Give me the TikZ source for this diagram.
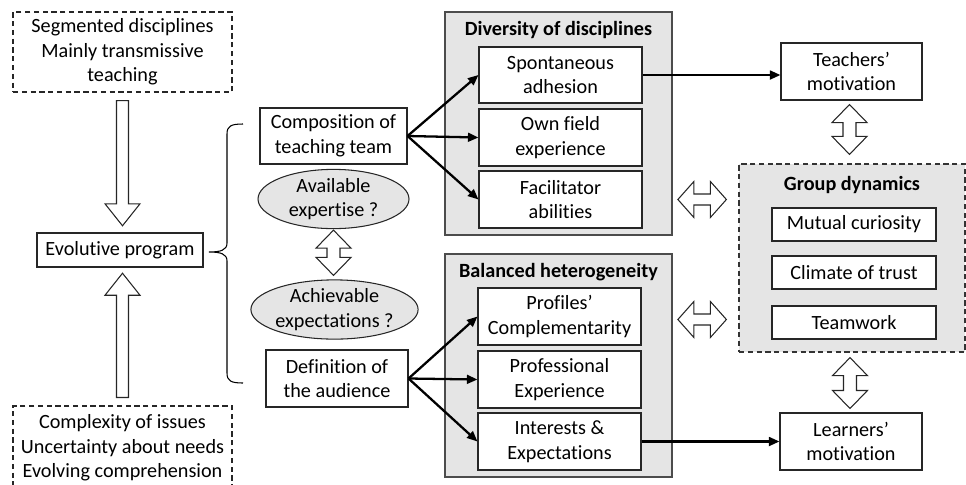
\documentclass[tikz,border=0pt]{standalone}
\usepackage{fontspec}
\setmainfont{Carlito}[Ligatures=NoCommon]
\usetikzlibrary{calc,arrows.meta,shapes.geometric}
\newcommand\pxu{0.02cm}
\newcommand\vdbl[2]{%
 \draw[hollow] let \p1=#1, \p2=#2 in
  (\x1,\y1) -- ({\x1+17.5*\pxu},{\y1-18*\pxu}) -- ({\x1+6.5*\pxu},{\y1-18*\pxu}) -- ({\x1+6.5*\pxu},{\y2+18*\pxu}) -- ({\x1+17.5*\pxu},{\y2+18*\pxu}) -- (\x1,\y2) -- ({\x1-17.5*\pxu},{\y2+18*\pxu}) -- ({\x1-6.5*\pxu},{\y2+18*\pxu}) -- ({\x1-6.5*\pxu},{\y1-18*\pxu}) -- ({\x1-17.5*\pxu},{\y1-18*\pxu}) -- cycle;}
\newcommand\hdbl[2]{%
 \draw[hollow] let \p1=#1, \p2=#2 in
  (\x1,\y1) -- ({\x1+16*\pxu},{\y1+18*\pxu}) -- ({\x1+16*\pxu},{\y1+5.5*\pxu}) -- ({\x2-16*\pxu},{\y1+5.5*\pxu}) -- ({\x2-16*\pxu},{\y1+18*\pxu}) -- (\x2,\y1) -- ({\x2-16*\pxu},{\y1-18*\pxu}) -- ({\x2-16*\pxu},{\y1-5.5*\pxu}) -- ({\x1+16*\pxu},{\y1-5.5*\pxu}) -- ({\x1+16*\pxu},{\y1-18*\pxu}) -- cycle;}
\newcommand\vsingle[3]{%
 \draw[hollow] let \p1=#1, \p2=#2 in
  ({\x1-6*\pxu},\y1) -- ({\x1-6*\pxu},{\y2+(#3)*22*\pxu}) -- ({\x1-17.5*\pxu},{\y2+(#3)*22*\pxu}) -- (\x1,\y2) -- ({\x1+17.5*\pxu},{\y2+(#3)*22*\pxu}) -- ({\x1+6*\pxu},{\y2+(#3)*22*\pxu}) -- ({\x1+6*\pxu},\y1) -- cycle;}
\tikzset{
 sz/.style 2 args={minimum width=#1*\pxu, minimum height=#2*\pxu},
 txt/.style={font=\fontsize{11.5}{14}\selectfont, align=center, inner sep=1pt},
 box/.style={txt, draw=black!85, line width=0.6pt, fill=white},
 dbox/.style={txt, draw=black!85, line width=0.6pt, dash pattern=on 3pt off 2pt},
 grp/.style={draw=black!70, line width=1pt, fill=gray!20},
 ell/.style={txt, ellipse, draw=black!85, line width=0.6pt, fill=gray!20, inner sep=0pt},
 ttl/.style={font=\bfseries\fontsize{11.5}{14}\selectfont, inner sep=1pt},
 hollow/.style={draw=black!85, line width=0.6pt, fill=white, line join=miter},
 conn/.style={line width=1.3pt, -{Triangle[length=6pt,width=5pt]}}
}
\begin{document}
\begin{tikzpicture}[x=0.02cm,y=-0.02cm]
\useasboundingbox (0,0) rectangle (966,484);
\clip (0,0) rectangle (966,484);
% left column
\node[dbox, sz={219}{80}] (top) at (122.5,52) {Segmented disciplines\\Mainly transmissive\\teaching};
\node[dbox, sz={219}{84}] (bot) at (122.5,448) {Complexity of issues\\Uncertainty about needs\\Evolving comprehension};
\node[box, line width=1.4pt, sz={166}{34}] (evol) at (120,250) {Evolutive program};
\vsingle{($(top.south)+(0,8)$)}{($(evol.north)+(0,-6)$)}{1}
\vsingle{($(bot.north)+(0,-8)$)}{($(evol.south)+(0,5)$)}{-1}
% brace
\draw[line width=0.6pt] (243,124) .. controls (231,124) and (227,126) .. (227,134) -- (227,243) .. controls (227,250) and (221,252) .. (209,252) .. controls (221,252) and (227,254) .. (227,261) -- (227,373) .. controls (227,381) and (231,383) .. (243,383);
% second column
\node[box, sz={147}{56}] (comp) at (333.5,136) {Composition of\\teaching team};
\node[ell, sz={151}{56}] (avail) at (333.5,199) {Available\\expertise ?};
\node[ell, sz={153}{55}] (achiev) at (334.5,309.5) {Achievable\\expectations ?};
\node[box, sz={142}{57}] (def) at (337,378.5) {Definition of\\the audience};
\vdbl{($(avail.south)+(0,1)$)}{($(achiev.north)+(0,-4)$)}
% groups
\node[grp, sz={227}{223}] (divg) at (558.5,123.5) {};
\node[ttl] (divt) at (558.5,30) {Diversity of disciplines};
\node[box, sz={163}{56}] (spont) at (560.5,75) {Spontaneous\\adhesion};
\node[box, sz={163}{57}] (own) at (560.5,137.5) {Own field\\experience};
\node[box, sz={163}{57}] (facil) at (560.5,199.5) {Facilitator\\abilities};
\node[grp, sz={227}{223}] (balg) at (558.5,365.5) {};
\node[ttl] (balt) at (558.5,272) {Balanced heterogeneity};
\node[box, sz={163}{57}] (prof) at (559.5,316.5) {Profiles’\\Complementarity};
\node[box, sz={163}{57}] (pexp) at (559.5,379.5) {Professional\\Experience};
\node[box, sz={163}{57}] (inter) at (559.5,441.5) {Interests \&\\Expectations};
% right column
\node[box, sz={141}{57}] (teach) at (851.5,71.5) {Teachers’\\motivation};
\node[grp, draw=black!80, line width=0.7pt, dash pattern=on 3pt off 2pt, sz={226}{188}] (grpd) at (852,258) {};
\node[ttl] (grpt) at (852,185) {Group dynamics};
\node[box, sz={164}{33}] (mutual) at (854,224.5) {Mutual curiosity};
\node[box, sz={164}{33}] (climate) at (854,272.5) {Climate of trust};
\node[box, sz={164}{33}] (teamw) at (854,322.5) {Teamwork};
\node[box, sz={142}{57}] (learn) at (851,441.5) {Learners’\\motivation};
\vdbl{($(teach.south)+(-2,4)$)}{($(grpd.north)+(-2,-9)$)}
\vdbl{($(grpd.south)+(-2,5)$)}{($(learn.north)+(-1,-4)$)}
\hdbl{($(divg.east |- facil)+(5,0)$)}{($(grpd.west |- facil)+(-12,0)$)}
\hdbl{($(balg.east |- prof)+(5,3)$)}{($(grpd.west |- prof)+(-12,3)$)}
% connectors
\draw[conn] (comp.east) -- (spont.west);
\draw[conn] (comp.east) -- (own.west);
\draw[conn] (comp.east) -- (facil.west);
\draw[conn] (def.east) -- (prof.west);
\draw[conn] (def.east) -- (pexp.west);
\draw[conn] (def.east) -- (inter.west);
\draw[conn] (spont.east) -- (spont.east -| teach.west);
\draw[conn] (inter.east) -- (inter.east -| learn.west);
\end{tikzpicture}
\end{document}
